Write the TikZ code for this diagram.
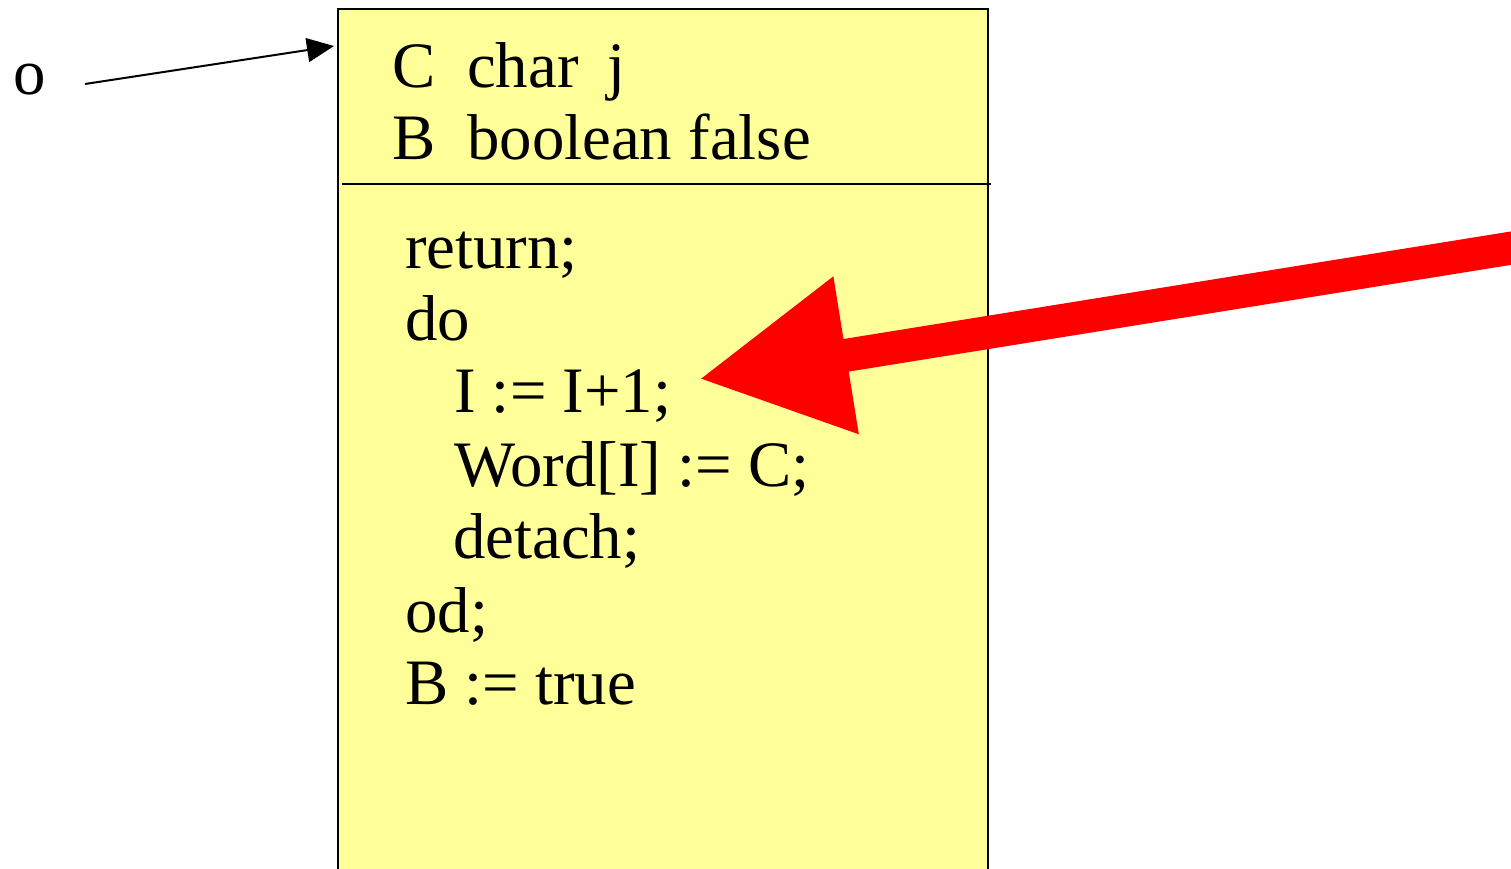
\documentclass[tikz,border=0pt]{standalone}
\usepackage{fontspec}
\setmainfont{Liberation Serif}
\usetikzlibrary{arrows.meta}
\definecolor{boxyellow}{RGB}{255,255,153}
\definecolor{arrred}{RGB}{255,0,0}
\tikzset{
  code/.style={anchor=base west, inner sep=0pt, font=\fontsize{64.8}{73}\selectfont},
  objbox/.style={draw=black, line width=2pt, fill=boxyellow},
}
\begin{document}
\begin{tikzpicture}[x=1pt,y=-1pt]
\useasboundingbox (0,0) rectangle (1511,869);
% object box
\draw[objbox] (338,9) rectangle (988,872);
\draw[line width=1.8pt] (342,184) -- (991,184);
% header
\node[code] (h1a) at (392,88) {C};
\node[code] (h1b) at (467,88) {char};
\node[code] (h1c) at (607,88) {j};
\node[code] (h2a) at (392,160) {B};
\node[code] (h2b) at (467,160) {boolean false};
% body
\node[code] (l1) at (405,268) {return;};
\node[code] (l2) at (405,340) {do};
\node[code] (l3) at (454,412) {I := I+1;};
\node[code] (l4) at (454,486) {Word[I] := C;};
\node[code] (l5) at (453,558) {detach;};
\node[code] (l6) at (405,632) {od;};
\node[code] (l7) at (405,704) {B := true};
% o label and pointer
\node[code] (o) at (13,95) {o};
\coordinate (ostart) at (85,84);
\coordinate (otip) at (334,46);
\draw[line width=2pt, -{Triangle[length=27pt,width=24pt]}] (ostart) -- (otip);
% red arrow
\coordinate (rstart) at (1515,247.5);
\coordinate (rtip) at (699,379);
\draw[arrred, line width=33pt, -{Triangle[length=149pt,width=150pt]}] (rstart) -- (rtip);
\end{tikzpicture}
\end{document}
